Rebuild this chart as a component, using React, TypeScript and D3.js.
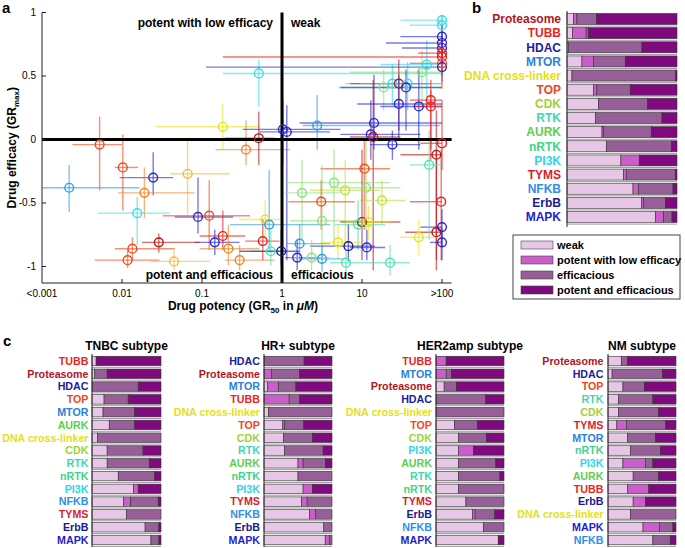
import React from 'react';
import * as d3 from 'd3';

const FONT = "'Liberation Sans', Arial, Helvetica, sans-serif";

// ---------- Panel a data ----------
const xTickLogs = [-3, -2, -1, 0, 1, 2];
const xTickLabels = ['<0.001', '0.01', '0.1', '1', '10', '>100'];
const yTickValues = [-1, -0.5, 0, 0.5, 1];
const yTickLabels = ['-1', '-0.5', '0', '0.5', '1'];

const pointPalette: Record<string, string> = {
  red: '#e8201c',
  darkRed: '#b81818',
  orangeRed: '#f04a1e',
  orange: '#f0842a',
  lightOrange: '#f5bc3a',
  yellow: '#e6e31e',
  yellowGreen: '#c4e03a',
  lightGreen: '#8ee07a',
  teal: '#4fe0b0',
  cyan: '#3adcec',
  skyBlue: '#2e9ee8',
  blue: '#2828d2',
  navy: '#1a1a96',
};

// [log10 GR50, GRmax, log10 GR50 low, log10 GR50 high, GRmax low, GRmax high, colour]
const scatterPoints: [number, number, number, number, number, number, string][] = [
  [-2.28, -0.04, -2.62, -2.0, -0.40, 0.18, 'orangeRed'],
  [-1.99, -0.22, -2.09, -1.8, -0.56, 0.04, 'orangeRed'],
  [-1.61, -0.30, -2.03, -1.36, -0.44, -0.10, 'blue'],
  [-1.18, -0.27, -1.40, -0.65, -0.59, 0.0, 'lightOrange'],
  [-2.66, -0.38, -3.0, -1.78, -0.57, -0.20, 'skyBlue'],
  [-1.72, -0.42, -2.05, -1.09, -0.62, -0.22, 'orange'],
  [-1.81, -0.58, -2.3, -1.4, -0.83, -0.45, 'cyan'],
  [-1.05, -0.61, -1.34, -0.61, -0.74, -0.30, 'blue'],
  [-0.91, -0.60, -1.49, -0.40, -0.87, -0.32, 'orangeRed'],
  [-0.74, -0.76, -1.03, -0.46, -0.87, -0.56, 'red'],
  [-0.84, -0.81, -1.09, -0.53, -0.91, -0.71, 'blue'],
  [-1.54, -0.81, -1.75, -1.03, -0.89, -0.74, 'darkRed'],
  [-1.87, -0.86, -2.09, -1.34, -0.95, -0.77, 'orangeRed'],
  [-1.93, -0.95, -2.34, -1.53, -1.01, -0.87, 'orangeRed'],
  [-1.35, -0.96, -1.65, -0.90, -1.03, -0.87, 'lightOrange'],
  [-0.67, -0.86, -1.03, -0.28, -0.99, -0.67, 'orange'],
  [-0.53, -0.95, -0.71, -0.09, -1.03, -0.83, 'orange'],
  [-0.74, 0.10, -1.58, -0.28, -0.08, 0.28, 'yellow'],
  [-0.45, -0.08, -0.83, 0.10, -0.20, 0.15, 'orange'],
  [-0.29, 0.01, -0.71, -0.09, -0.20, 0.22, 'darkRed'],
  [-0.29, 0.52, -0.74, 2.0, 0.26, 0.63, 'cyan'],
  [0.01, 0.08, -0.49, 0.73, -0.20, 0.31, 'blue'],
  [0.06, 0.06, -0.28, 0.60, -0.95, 0.27, 'blue'],
  [0.44, 0.11, 0.26, 1.98, -0.08, 0.35, 'skyBlue'],
  [1.75, 0.53, 0.85, 2.0, 0.27, 0.70, 'lightGreen'],
  [1.81, 0.59, 1.23, 2.0, 0.31, 0.78, 'cyan'],
  [1.27, 0.41, 0.70, 2.0, 0.23, 0.55, 'lightGreen'],
  [1.38, 0.44, 0.79, 2.0, 0.27, 0.59, 'cyan'],
  [1.46, 0.44, 0.85, 1.85, 0.07, 0.63, 'darkRed'],
  [1.57, 0.44, 0.98, 2.0, 0.23, 0.61, 'cyan'],
  [1.55, 0.41, 0.73, 2.0, 0.07, 0.55, 'blue'],
  [1.46, 0.28, 0.94, 2.0, 0.0, 0.51, 'blue'],
  [1.71, 0.26, 1.23, 2.0, -0.08, 0.55, 'blue'],
  [1.86, 0.31, 1.6, 2.0, -0.08, 0.47, 'red'],
  [1.86, 0.26, 1.66, 2.0, -0.16, 0.39, 'red'],
  [1.15, 0.13, 0.22, 2.0, -0.08, 0.51, 'blue'],
  [1.11, 0.04, 0.73, 1.73, -0.16, 0.31, 'blue'],
  [1.14, 0.02, 0.85, 1.48, -1.03, 0.47, 'darkRed'],
  [1.38, -0.04, 1.1, 1.73, -0.16, 0.07, 'blue'],
  [2.0, 0.94, 1.48, 2.0, 0.85, 0.98, 'cyan'],
  [2.0, 0.90, 1.6, 2.0, 0.80, 0.98, 'cyan'],
  [2.0, 0.81, 1.48, 2.0, 0.70, 0.90, 'blue'],
  [2.0, 0.76, 1.3, 2.0, 0.65, 0.85, 'blue'],
  [2.0, 0.72, 1.5, 2.0, 0.60, 0.82, 'blue'],
  [2.0, 0.57, -0.95, 2.0, 0.45, 0.70, 'blue'],
  [2.0, 0.68, 1.7, 2.0, 0.55, 0.80, 'red'],
  [2.0, 0.65, -0.74, 2.0, 0.50, 0.75, 'red'],
  [2.0, 0.60, 1.6, 2.0, 0.40, 0.70, 'orangeRed'],
  [2.0, -0.03, 1.73, 2.0, -0.24, 0.31, 'red'],
  [1.93, -0.12, 1.48, 2.0, -0.95, 0.23, 'darkRed'],
  [1.99, -0.49, 1.6, 2.0, -0.95, -0.08, 'red'],
  [1.93, -0.73, 1.54, 2.0, -1.03, -0.08, 'darkRed'],
  [2.0, -0.69, 1.73, 2.0, -0.85, -0.55, 'blue'],
  [2.0, -0.81, 1.85, 2.0, -0.95, -0.70, 'blue'],
  [1.71, -0.77, 1.48, 1.98, -0.91, -0.63, 'yellow'],
  [1.84, -0.20, 1.6, 2.0, -0.79, 0.07, 'teal'],
  [1.35, -0.97, 1.1, 1.6, -1.07, -0.83, 'teal'],
  [1.03, -0.23, 0.48, 1.35, -0.71, 0.0, 'orangeRed'],
  [0.65, -0.34, 0.04, 1.35, -0.83, -0.08, 'lightGreen'],
  [0.79, -0.40, 0.35, 1.23, -0.87, -0.16, 'yellowGreen'],
  [1.05, -0.38, 0.6, 1.48, -0.71, 0.0, 'lightGreen'],
  [0.25, -0.42, 0.03, 0.73, -0.79, -0.16, 'lightGreen'],
  [0.49, -0.49, 0.08, 0.91, -0.71, -0.32, 'orangeRed'],
  [1.25, -0.48, 0.98, 1.54, -0.67, -0.32, 'yellowGreen'],
  [0.5, -0.64, 0.1, 0.98, -0.95, -0.20, 'lightGreen'],
  [-0.21, -0.63, -0.53, 0.0, -0.79, -0.48, 'yellow'],
  [-0.16, -0.67, -0.65, 0.6, -0.87, -0.24, 'skyBlue'],
  [1.0, -0.65, 0.73, 1.48, -0.95, -0.08, 'darkRed'],
  [0.95, -0.67, 0.66, 1.29, -0.87, -0.48, 'teal'],
  [1.08, -0.65, 0.79, 1.35, -0.79, -0.52, 'yellow'],
  [-0.24, -0.80, -0.46, -0.03, -0.95, -0.63, 'red'],
  [-0.14, -0.88, -0.40, 0.0, -0.99, -0.71, 'teal'],
  [-0.01, -0.88, -0.53, 0.22, -0.99, -0.71, 'navy'],
  [0.22, -0.82, 0.06, 0.6, -0.95, -0.67, 'skyBlue'],
  [0.70, -0.81, 0.48, 0.98, -0.95, -0.67, 'yellow'],
  [0.83, -0.84, 0.35, 1.16, -0.96, -0.67, 'navy'],
  [1.06, -0.85, 0.85, 1.29, -0.95, -0.71, 'blue'],
  [0.19, -0.93, 0.04, 0.48, -1.03, -0.79, 'blue'],
  [0.37, -0.93, 0.1, 0.6, -1.03, -0.79, 'lightGreen'],
  [0.50, -0.94, 0.22, 0.79, -1.04, -0.83, 'skyBlue'],
  [0.8, -0.97, 0.6, 1.1, -1.07, -0.87, 'teal'],
];

// ---------- Panels b / c data ----------
const classColors: Record<string, string> = {
  Proteasome: '#b3141c',
  TUBB: '#e8261e',
  HDAC: '#1c1c9c',
  MTOR: '#2b7fdc',
  'DNA cross-linker': '#e3df1c',
  TOP: '#f0461e',
  CDK: '#a2d232',
  RTK: '#3fd6ae',
  AURK: '#5ccf4c',
  nRTK: '#3fd48a',
  PI3K: '#2fd6e6',
  TYMS: '#d81e2a',
  NFKB: '#2f8ee6',
  ErbB: '#1a1a8e',
  MAPK: '#2222cc',
};

const categories = ['weak', 'potent with low efficacy', 'efficacious', 'potent and efficacious'];
const categoryColors = ['#e6c8e6', '#ca5fca', '#975f97', '#7e0a7e'];

const allClasses = ['Proteasome', 'TUBB', 'HDAC', 'MTOR', 'DNA cross-linker', 'TOP', 'CDK', 'RTK', 'AURK', 'nRTK', 'PI3K', 'TYMS', 'NFKB', 'ErbB', 'MAPK'];
const allValues = [
  [0.06, 0.03, 0.18, 0.73],
  [0.05, 0.124, 0.02, 0.806],
  [0.015, 0, 0.667, 0.318],
  [0.136, 0.106, 0.288, 0.47],
  [0.045, 0, 0.94, 0.015],
  [0.242, 0.03, 0.303, 0.425],
  [0.288, 0, 0.445, 0.267],
  [0.258, 0, 0.606, 0.136],
  [0.318, 0.015, 0.433, 0.234],
  [0.358, 0, 0.59, 0.052],
  [0.49, 0.167, 0, 0.343],
  [0.515, 0.024, 0.445, 0.016],
  [0.6, 0.052, 0.312, 0.036],
  [0.676, 0.021, 0.197, 0.106],
  [0.803, 0.076, 0.076, 0.045],
];

const subtypeTitles = ['TNBC subtype', 'HR+ subtype', 'HER2amp subtype', 'NM subtype'];

const tnbcClasses = ['TUBB', 'Proteasome', 'HDAC', 'TOP', 'MTOR', 'AURK', 'DNA cross-linker', 'CDK', 'RTK', 'nRTK', 'PI3K', 'NFKB', 'TYMS', 'ErbB', 'MAPK'];
const tnbcValues = [
  [0.06, 0, 0, 0.94],
  [0.04, 0, 0.18, 0.78],
  [0, 0, 0.67, 0.33],
  [0.175, 0, 0.35, 0.475],
  [0.16, 0, 0.46, 0.38],
  [0.25, 0, 0.37, 0.38],
  [0.08, 0, 0.92, 0],
  [0.22, 0, 0.52, 0.26],
  [0.22, 0, 0.61, 0.17],
  [0.38, 0, 0.53, 0.09],
  [0.6, 0.07, 0, 0.33],
  [0.46, 0.1, 0.4, 0.04],
  [0.5, 0, 0.5, 0],
  [0.77, 0, 0.2, 0.03],
  [0.855, 0, 0.115, 0.03],
];

const hrClasses = ['HDAC', 'Proteasome', 'MTOR', 'TUBB', 'DNA cross-linker', 'TOP', 'CDK', 'RTK', 'AURK', 'nRTK', 'PI3K', 'TYMS', 'NFKB', 'ErbB', 'MAPK'];
const hrValues = [
  [0, 0, 0.59, 0.41],
  [0, 0.11, 0.415, 0.475],
  [0.055, 0.155, 0.26, 0.53],
  [0, 0.37, 0.155, 0.475],
  [0.065, 0, 0.935, 0],
  [0.27, 0.035, 0.28, 0.415],
  [0.285, 0, 0.43, 0.285],
  [0.3, 0, 0.57, 0.13],
  [0.5, 0.075, 0.33, 0.095],
  [0.5, 0, 0.5, 0],
  [0.575, 0.14, 0, 0.285],
  [0.55, 0.085, 0.365, 0],
  [0.67, 0.085, 0.245, 0],
  [0.88, 0, 0.12, 0],
  [0.9, 0.065, 0.035, 0],
];

const her2Classes = ['TUBB', 'MTOR', 'Proteasome', 'HDAC', 'DNA cross-linker', 'TOP', 'CDK', 'PI3K', 'AURK', 'RTK', 'nRTK', 'TYMS', 'ErbB', 'NFKB', 'MAPK'];
const her2Values = [
  [0, 0.15, 0, 0.85],
  [0, 0.15, 0.075, 0.775],
  [0.12, 0, 0.185, 0.695],
  [0, 0, 0.73, 0.27],
  [0, 0, 1.0, 0],
  [0.275, 0, 0.335, 0.39],
  [0.33, 0, 0.415, 0.255],
  [0.33, 0.22, 0, 0.45],
  [0.33, 0, 0.55, 0.12],
  [0.33, 0, 0.61, 0.06],
  [0.33, 0, 0.67, 0],
  [0.44, 0, 0.56, 0],
  [0.535, 0.04, 0.29, 0.135],
  [0.7, 0, 0.3, 0],
  [0.915, 0, 0, 0.085],
];

const nmClasses = ['Proteasome', 'HDAC', 'TOP', 'RTK', 'CDK', 'TYMS', 'MTOR', 'nRTK', 'PI3K', 'AURK', 'TUBB', 'ErbB', 'DNA cross-linker', 'MAPK', 'NFKB'];
const nmValues = [
  [0.195, 0, 0.095, 0.71],
  [0.06, 0, 0.745, 0.195],
  [0.22, 0, 0.315, 0.465],
  [0.155, 0, 0.505, 0.34],
  [0.155, 0, 0.59, 0.255],
  [0.13, 0.14, 0.58, 0.15],
  [0.29, 0, 0.41, 0.3],
  [0.33, 0, 0.44, 0.23],
  [0.22, 0.33, 0.11, 0.34],
  [0.37, 0, 0.375, 0.255],
  [0.29, 0.31, 0, 0.4],
  [0.37, 0.18, 0, 0.45],
  [0.33, 0, 0.67, 0],
  [0.515, 0.24, 0.2, 0.045],
  [0.66, 0, 0.255, 0.085],
];

const subtypeClasses = [tnbcClasses, hrClasses, her2Classes, nmClasses];
const subtypeValues = [tnbcValues, hrValues, her2Values, nmValues];

// ---------- helpers ----------
type StackProps = {
  classes: string[];
  values: number[][];
  x0: number;
  x1: number;
  yTop: number;
  yBottom: number;
  barH: number;
  labelRight: number;
  fontSize: number;
  axisTop: number;
  axisBottom: number;
};

function StackedPanel(p: StackProps) {
  const xs = d3.scaleLinear().domain([0, 1]).range([p.x0, p.x1]);
  const ys = d3.scalePoint<string>().domain(p.classes).range([p.yTop, p.yBottom]);
  const rows = p.values.map((v) => {
    const o: Record<string, number> = {};
    categories.forEach((c, i) => (o[c] = v[i]));
    return o;
  });
  const series = d3.stack<Record<string, number>>().keys(categories)(rows);
  return (
    <g>
      {p.classes.map((c, i) => {
        const cy = ys(c) as number;
        return (
          <g key={c}>
            <line x1={xs(0)} x2={xs(1)} y1={cy + p.barH / 2 + 1.6} y2={cy + p.barH / 2 + 1.6} stroke="#9a9a9a" strokeWidth={1} />
            {series.map((s, k) => {
              const seg = s[i];
              const w = xs(seg[1]) - xs(seg[0]);
              if (w <= 0.01) return null;
              return (
                <rect key={k} x={xs(seg[0])} y={cy - p.barH / 2} width={w} height={p.barH} fill={categoryColors[k]} stroke="#333" strokeWidth={0.6} />
              );
            })}
            <text x={p.labelRight} y={cy} dy="0.36em" textAnchor="end" fontFamily={FONT} fontWeight="bold" fontSize={p.fontSize} fill={classColors[c]}>
              {c}
            </text>
          </g>
        );
      })}
      <line x1={p.x0} x2={p.x0} y1={p.axisTop} y2={p.axisBottom} stroke="#222" strokeWidth={1} />
    </g>
  );
}

export default function App() {
  const W = 685;
  const H = 548;
  const xS = d3.scaleLinear().domain([-3, 2.12]).range([42, 451.6]);
  const yS = d3.scaleLinear().domain([-1.13, 1]).range([283, 12.5]);
  const cBars = [
    [92, 161, 88.5],
    [264, 332, 260],
    [436, 504, 432],
    [608, 676, 603.5],
  ];
  return (
    <svg width={W} height={H} viewBox={`0 0 ${W} ${H}`} style={{ position: 'absolute', left: 0, top: 0, background: '#fff' }}>
      <rect width={W} height={H} fill="#fff" />
      {/* Panel a */}
      <text x={2} y={13} fontFamily={FONT} fontWeight="bold" fontSize={15}>a</text>
      {scatterPoints.map((p, i) => {
        const col = pointPalette[p[6]];
        return (
          <g key={'eb' + i} stroke={col} strokeOpacity={0.62} strokeWidth={1.4}>
            <line x1={xS(p[2])} x2={xS(p[3])} y1={yS(p[1])} y2={yS(p[1])} />
            <line x1={xS(p[0])} x2={xS(p[0])} y1={yS(p[4])} y2={yS(p[5])} />
          </g>
        );
      })}
      {/* zero lines */}
      <line x1={xS(-3)} x2={xS(2.12)} y1={yS(0)} y2={yS(0)} stroke="#000" strokeWidth={3} />
      <line x1={xS(0)} x2={xS(0)} y1={yS(1)} y2={yS(-1.13)} stroke="#000" strokeWidth={3} />
      {scatterPoints.map((p, i) => (
        <circle key={'pt' + i} cx={xS(p[0])} cy={yS(p[1])} r={4.4} fill="none" stroke={pointPalette[p[6]]} strokeWidth={1.4} />
      ))}
      {/* axes */}
      <line x1={xS(-3)} x2={xS(-3)} y1={yS(1)} y2={yS(-1.13)} stroke="#222" strokeWidth={1} />
      <line x1={xS(-3)} x2={xS(2.12)} y1={yS(-1.13)} y2={yS(-1.13)} stroke="#222" strokeWidth={1} />
      {yTickValues.map((v, i) => (
        <g key={'yt' + i}>
          <line x1={xS(-3)} x2={xS(-3) + 4} y1={yS(v)} y2={yS(v)} stroke="#222" />
          <text x={xS(-3) - 6} y={yS(v)} dy="0.35em" textAnchor="end" fontFamily={FONT} fontSize={10}>{yTickLabels[i]}</text>
        </g>
      ))}
      {xTickLogs.map((v, i) => (
        <g key={'xt' + i}>
          {i > 0 && <line x1={xS(v)} x2={xS(v)} y1={yS(-1.13)} y2={yS(-1.13) - 4} stroke="#222" />}
          <text x={xS(v)} y={yS(-1.13) + 14} textAnchor="middle" fontFamily={FONT} fontSize={10}>{xTickLabels[i]}</text>
        </g>
      ))}
      <text x={243} y={310} textAnchor="middle" fontFamily={FONT} fontWeight="bold" fontSize={12}>
        Drug potency (GR<tspan dy={3} fontSize={8}>50</tspan><tspan dy={-3}> in </tspan><tspan fontStyle="italic">μM</tspan>)
      </text>
      <text transform={`translate(16,${(yS(1) + yS(-1.13)) / 2}) rotate(-90)`} textAnchor="middle" fontFamily={FONT} fontWeight="bold" fontSize={12}>
        Drug efficacy (GR<tspan dy={3} fontSize={8}>max</tspan><tspan dy={-3}>)</tspan>
      </text>
      <text x={xS(0) - 9} y={27} textAnchor="end" fontFamily={FONT} fontWeight="bold" fontSize={12}>potent with low efficacy</text>
      <text x={xS(0) + 9} y={27} textAnchor="start" fontFamily={FONT} fontWeight="bold" fontSize={12}>weak</text>
      <text x={xS(0) - 9} y={279} textAnchor="end" fontFamily={FONT} fontWeight="bold" fontSize={12}>potent and efficacious</text>
      <text x={xS(0) + 9} y={279} textAnchor="start" fontFamily={FONT} fontWeight="bold" fontSize={12}>efficacious</text>

      {/* Panel b */}
      <text x={472} y={13} fontFamily={FONT} fontWeight="bold" fontSize={15}>b</text>
      <StackedPanel classes={allClasses} values={allValues} x0={567} x1={677} yTop={19} yBottom={217} barH={11} labelRight={561} fontSize={12} axisTop={11} axisBottom={227} />
      <rect x={513} y={235} width={167} height={64} fill="#fff" stroke="#444" strokeWidth={1} />
      {categories.map((c, i) => {
        const ly = d3.scalePoint<string>().domain(categories).range([245, 290])(c) as number;
        return (
          <g key={c}>
            <rect x={521} y={ly - 4} width={32} height={8} fill={categoryColors[i]} stroke="#444" strokeWidth={0.6} />
            <text x={557} y={ly} dy="0.36em" fontFamily={FONT} fontWeight="bold" fontSize={11}>{c}</text>
          </g>
        );
      })}

      {/* Panel c */}
      <text x={3} y={346} fontFamily={FONT} fontWeight="bold" fontSize={15}>c</text>
      {subtypeTitles.map((t, k) => (
        <g key={t}>
          <text x={(cBars[k][0] + cBars[k][1]) / 2} y={350} textAnchor="middle" fontFamily={FONT} fontWeight="bold" fontSize={12}>{t}</text>
          <StackedPanel classes={subtypeClasses[k]} values={subtypeValues[k]} x0={cBars[k][0]} x1={cBars[k][1]} yTop={361} yBottom={540} barH={9.5} labelRight={cBars[k][2]} fontSize={10.7} axisTop={354} axisBottom={547} />
        </g>
      ))}
    </svg>
  );
}
